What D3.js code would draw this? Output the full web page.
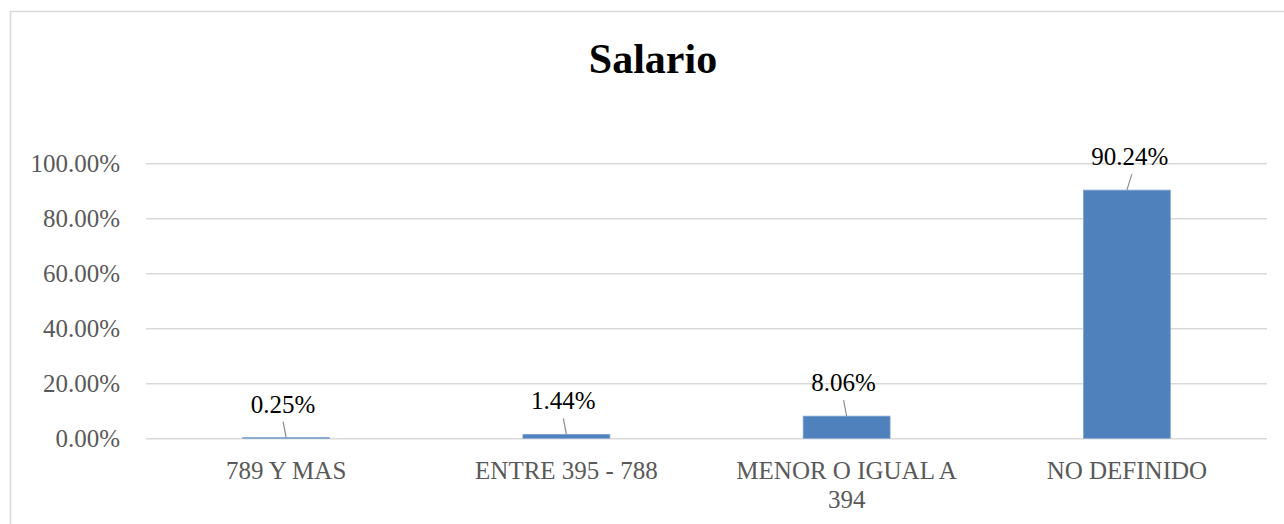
<!DOCTYPE html>
<html>
<head>
<meta charset="utf-8">
<script src="https://cdn.jsdelivr.net/npm/d3@7"></script>
</head>
<body style="margin:0;background:#fff">
<svg id="chart" width="1284" height="524" style="font-family:'Liberation Serif',serif"></svg>
<script>
const categories = ['789 Y MAS', 'ENTRE 395 - 788', 'MENOR O IGUAL A 394', 'NO DEFINIDO'];
const values = [0.25, 1.44, 8.06, 90.24];
const yTicks = [0, 20, 40, 60, 80, 100];

(function() {
  const FONT = 'Liberation Serif',
    dim = { w: 1284, h: 524, left: 146, right: 1267, top: 163.3, bottom: 438.3 },
    $svg = d3.select('#chart');

  // outer chart frame, runs off the right and bottom edges
  $svg.append('rect')
    .attr('x', 10.5).attr('y', 11.5)
    .attr('width', 1400).attr('height', 700)
    .attr('fill', 'none').attr('stroke', '#d9d9d9').attr('stroke-width', 1.5);

  $svg.append('text')
    .text('Salario')
    .attr('x', 653).attr('y', 73)
    .attr('text-anchor', 'middle')
    .attr('font-family', FONT)
    .attr('font-size', 42).attr('font-weight', 'bold')
    .attr('fill', '#000');

  const xScale = d3.scaleBand().domain(categories).range([dim.left, dim.right]),
    yScale = d3.scaleLinear().domain([0, 100]).range([dim.bottom, dim.top]),
    barW = xScale.bandwidth() * 0.31;

  // gridlines + y labels via axis
  const yAxis = $svg.append('g')
    .attr('transform', 'translate(' + dim.left + ',0)')
    .call(d3.axisLeft(yScale).tickValues(yTicks).tickSize(-(dim.right - dim.left)).tickPadding(26)
      .tickFormat((d) => d.toFixed(2) + '%'))
    .attr('font-family', FONT)
    .attr('font-size', 25);
  yAxis.select('.domain').remove();
  yAxis.selectAll('line').attr('stroke', '#d9d9d9').attr('stroke-width', 1.5);
  yAxis.selectAll('text')
    .attr('fill', '#595959')
    .attr('dy', '0.34em');

  $svg.selectAll('.bar')
    .data(values)
    .enter()
    .append('rect')
    .attr('class', 'bar')
    .attr('x', (d, i) => xScale(categories[i]) + (xScale.bandwidth() - barW) / 2)
    .attr('width', barW)
    .attr('y', (d) => yScale(d))
    .attr('height', (d) => yScale(0) - yScale(d))
    .attr('fill', '#4f81bd')
    .attr('stroke', '#7fa3d0')
    .attr('stroke-width', 0.8);

  // leader lines and value labels
  const cx = (i) => xScale(categories[i]) + xScale.bandwidth() / 2;
  $svg.selectAll('.leader')
    .data(values)
    .enter()
    .append('line')
    .attr('x1', (d, i) => cx(i) + (i == 3 ? 5 : -3))
    .attr('x2', (d, i) => cx(i))
    .attr('y1', (d) => yScale(d) - 16)
    .attr('y2', (d) => yScale(d))
    .attr('stroke', '#8c8c8c').attr('stroke-width', 1.2);
  $svg.selectAll('.vlabel')
    .data(values)
    .enter()
    .append('text')
    .attr('x', (d, i) => cx(i) + (i == 3 ? 3 : -3))
    .attr('y', (d) => yScale(d) - 25)
    .attr('text-anchor', 'middle')
    .attr('font-family', FONT)
    .attr('font-size', 25).attr('fill', '#000')
    .text((d) => d.toFixed(2) + '%');

  // category labels, wrapped like the original
  const wrap = { 'MENOR O IGUAL A 394': ['MENOR O IGUAL A', '394'] };
  const $cat = $svg.selectAll('.cat')
    .data(categories)
    .enter()
    .append('text')
    .attr('text-anchor', 'middle')
    .attr('font-family', FONT)
    .attr('font-size', 25).attr('fill', '#595959')
    .attr('y', 479);
  $cat.each(function(d, i) {
    const lines = wrap[d] || [d];
    lines.forEach((l, j) => {
      d3.select(this).append('tspan')
        .attr('x', cx(i))
        .attr('y', 479 + j * 29)
        .text(l);
    });
  });
})();
</script>
</body>
</html>
